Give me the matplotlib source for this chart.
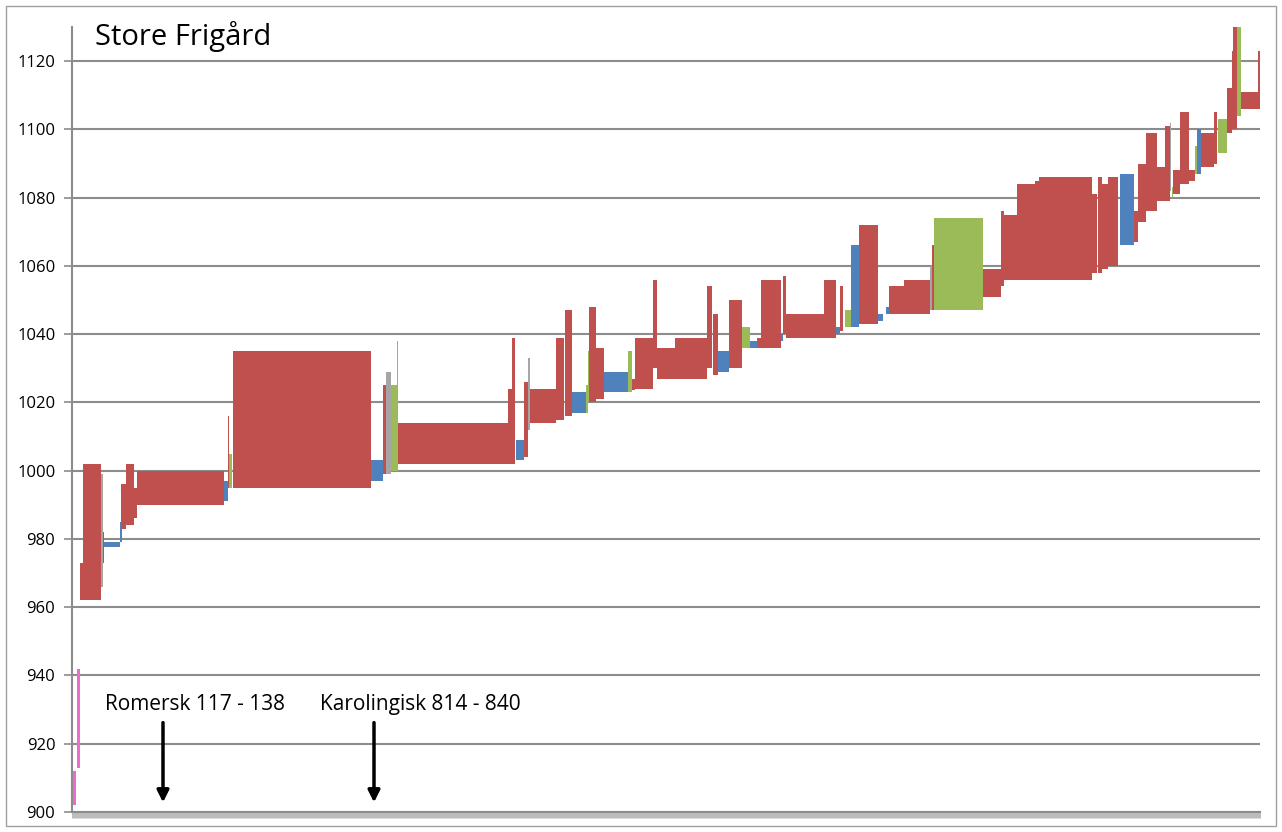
import numpy as np
import matplotlib
matplotlib.use('Agg')
import matplotlib.pyplot as plt
from matplotlib.patches import Rectangle

plt.rcParams['font.family'] = ['Open Sans', 'DejaVu Sans']

# category axis: one slot per sample position
n_cat = 1188

# floating bars: first category, number of categories, from year, to year, kind
seg_start = [1, 5, 8, 11, 29, 31, 32, 48, 49, 54, 62, 65, 152, 156, 157, 161, 299, 311, 314, 319,
             325, 326, 436, 440, 444, 452, 456, 458, 484, 493, 500, 514, 516, 517, 524, 532, 556, 560,
             563, 581, 585, 603, 635, 641, 646, 657, 670, 678, 685, 689, 709, 711, 714, 752, 764, 768,
             773, 779, 787, 806, 814, 817, 832, 858, 860, 862, 911, 929, 932, 945, 963, 967, 1020, 1026,
             1030, 1036, 1048, 1062, 1066, 1074, 1085, 1093, 1098, 1100, 1101, 1108, 1117, 1123, 1125,
             1129, 1142, 1146, 1155, 1160, 1161, 1165, 1169, 1186]
seg_count = [3, 3, 3, 18, 2, 1, 16, 2, 5, 8, 3, 87, 4, 1, 3, 138, 12, 3, 5, 6,
             1, 110, 4, 3, 8, 4, 2, 26, 8, 7, 14, 2, 1, 7, 8, 24, 4, 3,
             18, 4, 18, 32, 5, 5, 11, 13, 8, 7, 4, 20, 2, 3, 38, 12, 4, 3,
             6, 8, 19, 5, 3, 15, 26, 2, 2, 49, 18, 3, 13, 18, 4, 53, 5, 4,
             6, 10, 14, 4, 8, 11, 8, 5, 1, 1, 7, 9, 6, 2, 4,
             13, 3, 9, 5, 1, 4, 4, 17, 2]
seg_low = [902, 913, 962, 962, 966, 973, 977.5, 979, 983, 984, 986, 990, 991, 995, 995, 995, 997, 999, 999, 1000,
           1000, 1002, 1002, 1002, 1003, 1004, 1012, 1014, 1015, 1016, 1017, 1017, 1020, 1020, 1021, 1023, 1023, 1023.6,
           1024, 1030, 1027, 1027, 1030, 1028, 1029, 1030, 1036, 1036, 1036, 1036, 1038, 1040, 1039, 1039, 1040, 1041,
           1042, 1042, 1043, 1044, 1046, 1046, 1046, 1047, 1047, 1047, 1051, 1054, 1056, 1056, 1056, 1056, 1058, 1058,
           1059, 1060, 1066, 1067, 1073, 1076, 1079, 1079, 1082, 1080, 1081, 1084, 1085, 1087, 1087,
           1089, 1090, 1093, 1099, 1100, 1100, 1104, 1106, 1106]
seg_high = [912, 942, 973, 1002, 999, 982, 979, 985, 996, 1002, 995, 1000, 997, 1016, 1005, 1035, 1003, 1025, 1029, 1025,
            1038, 1014, 1024, 1039, 1009, 1026, 1033, 1024, 1039, 1047, 1023, 1025, 1035, 1048, 1036, 1029, 1035, 1027,
            1039, 1056, 1036, 1039, 1054, 1046, 1035, 1050, 1042, 1038, 1039, 1056, 1040, 1057, 1046, 1056, 1042, 1054,
            1047, 1066, 1072, 1046, 1048, 1054, 1056, 1060, 1066, 1074, 1059, 1076, 1075, 1084, 1085, 1086, 1081, 1086,
            1084, 1086, 1087, 1076, 1090, 1099, 1089, 1101, 1102, 1083, 1088, 1105, 1088, 1095, 1100,
            1099, 1105, 1103, 1112, 1123, 1130, 1130, 1111, 1123]
seg_kind = ['P', 'P', 'R', 'R', 'A', 'R', 'B', 'B', 'R', 'R', 'R', 'R', 'B', 'R', 'G', 'R', 'B', 'R', 'A', 'G',
            'A', 'R', 'R', 'R', 'B', 'R', 'A', 'R', 'R', 'R', 'B', 'G', 'G', 'R', 'R', 'B', 'G', 'R',
            'R', 'R', 'R', 'R', 'R', 'R', 'B', 'R', 'G', 'B', 'R', 'R', 'B', 'R', 'R', 'R', 'B', 'R',
            'G', 'B', 'R', 'B', 'B', 'R', 'R', 'A', 'R', 'G', 'R', 'R', 'R', 'R', 'R', 'R', 'R', 'R',
            'R', 'R', 'B', 'R', 'R', 'R', 'R', 'R', 'A', 'G', 'R', 'R', 'R', 'G', 'B',
            'R', 'R', 'G', 'R', 'R', 'R', 'G', 'R', 'R']

kind_colors = {'R': '#C0504D', 'B': '#4F81BD', 'G': '#9BBB59', 'A': '#A5A5A5', 'P': '#F06ACB'}

y_ticks = list(range(900, 1121, 20))

title = 'Store Frigård'
notes = ['Romersk 117 - 138', 'Karolingisk 814 - 840']
note_cat = [91, 302]
note_text_cat = [33, 248]

fig = plt.figure(figsize=(12.82, 8.32), dpi=100)
ax = fig.add_axes([72/1282, 20/832, (1260-72)/1282, (812-27)/832])

x0 = np.array(seg_start, dtype=float)
w = np.array(seg_count, dtype=float)
lo = np.array(seg_low, dtype=float)
hi = np.array(seg_high, dtype=float)
cols = [kind_colors[k] for k in seg_kind]
ax.bar(x0, hi - lo, width=w, bottom=lo, align='edge', color=cols, linewidth=0, zorder=3)

ax.set_xlim(0, n_cat)
ax.set_ylim(900, 1130)
ax.set_yticks(y_ticks)
ax.set_xticks(np.arange(0, n_cat + 1, 1))
ax.set_xticklabels([])
ax.grid(axis='y', color='#8C8C8C', linewidth=1.5, zorder=1)
ax.tick_params(axis='y', length=6, width=1.2, color='#8C8C8C', labelsize=12, pad=6)
ax.tick_params(axis='x', length=4, width=0.5, color='#A0A0A0')
for s in ['top', 'right']:
    ax.spines[s].set_visible(False)
ax.spines['left'].set_color('#8C8C8C')
ax.spines['left'].set_linewidth(1.5)
ax.spines['bottom'].set_color('#8C8C8C')
ax.spines['bottom'].set_linewidth(1.5)

ax.text(0.019, 1.008, title, transform=ax.transAxes, fontsize=21, va='top', ha='left')

for txt, xc, xt in zip(notes, note_cat, note_text_cat):
    ax.text(xt, 931.5, txt, fontsize=15, va='center', ha='left')
    ax.annotate('', xy=(xc, 902), xytext=(xc, 927),
                arrowprops=dict(arrowstyle='-|>,head_width=0.35,head_length=0.7', color='black', lw=2.5))

fig.patches.append(Rectangle((6/1282, 6/832), 1270/1282, 820/832, transform=fig.transFigure,
                             fill=False, edgecolor='#A0A0A0', linewidth=1))

fig.savefig('out.png', dpi=100)
